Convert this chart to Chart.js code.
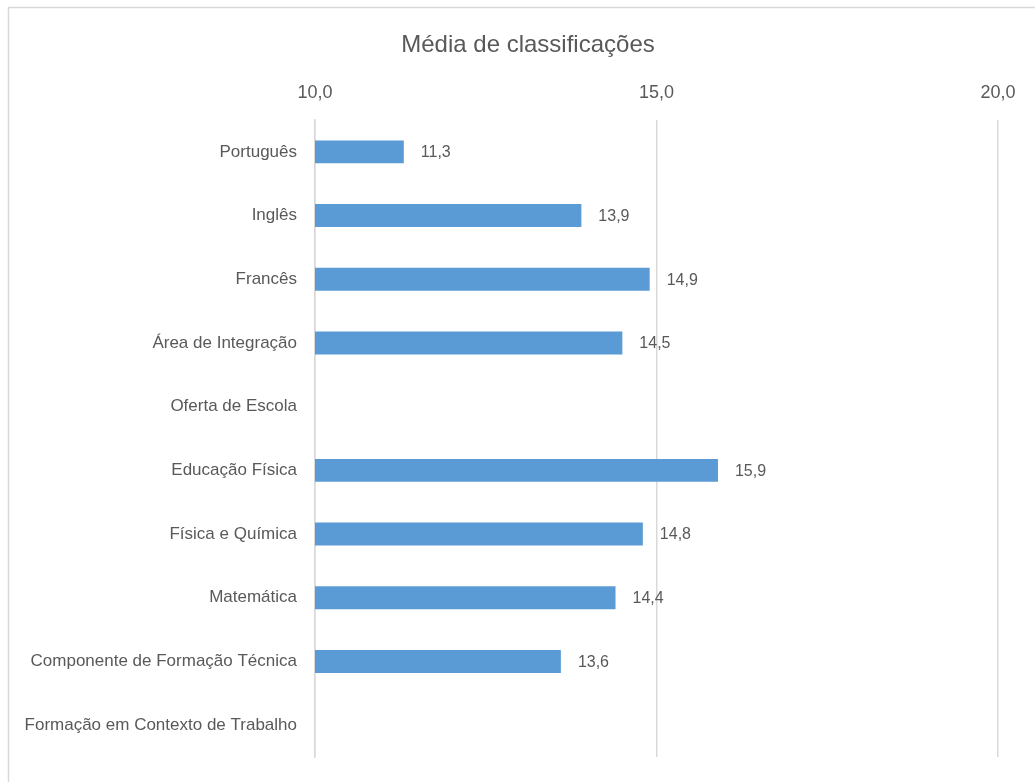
<!DOCTYPE html>
<html>
<head>
<meta charset="utf-8">
<script src="https://cdn.jsdelivr.net/npm/chart.js@4/dist/chart.umd.min.js"></script>
<style>
  html, body { margin: 0; padding: 0; background: #fff; }
  canvas { display: block; }
</style>
</head>
<body>
<canvas id="graficoMedias" width="1035" height="782"></canvas>
<script>
const disciplinas = ['Português', 'Inglês', 'Francês', 'Área de Integração', 'Oferta de Escola',
  'Educação Física', 'Física e Química', 'Matemática', 'Componente de Formação Técnica',
  'Formação em Contexto de Trabalho'];
const medias = [11.3, 13.9, 14.9, 14.5, null, 15.9, 14.8, 14.4, 13.6, null];
const eixoMin = 10;
const eixoMax = 20;
const eixoPasso = 5;
const titulo = 'Média de classificações';

const CINZA = '#595959';
const FONTE = '"Liberation Sans", Arial, sans-serif';
const fmt = v => v.toFixed(1).replace('.', ',');

// moldura e titulo (a moldura original e mais larga que a imagem)
const moldura = {
  id: 'moldura',
  beforeDraw(chart) {
    const ctx = chart.ctx;
    ctx.save();
    ctx.strokeStyle = '#d9d9d9';
    ctx.lineWidth = 1.5;
    ctx.strokeRect(8.5, 7.5, 1200, 1000);
    ctx.font = '24px ' + FONTE;
    ctx.fillStyle = CINZA;
    ctx.textAlign = 'center';
    ctx.textBaseline = 'middle';
    ctx.fillText(titulo, 528, 45);
    ctx.restore();
  }
};

// rotulos de valor a direita das barras
const rotulos = {
  id: 'rotulos',
  afterDatasetsDraw(chart) {
    const ctx = chart.ctx;
    const meta = chart.getDatasetMeta(0);
    ctx.save();
    ctx.font = '16px ' + FONTE;
    ctx.fillStyle = CINZA;
    ctx.textAlign = 'left';
    ctx.textBaseline = 'middle';
    meta.data.forEach((bar, i) => {
      const v = medias[i];
      if (v == null) return;
      ctx.fillText(fmt(v), bar.x + 17, bar.y + 1);
    });
    ctx.restore();
  }
};

new Chart(document.getElementById('graficoMedias'), {
  type: 'bar',
  data: {
    labels: disciplinas,
    datasets: [{
      data: medias,
      backgroundColor: '#5b9bd5',
      borderWidth: 0,
      barPercentage: 0.36,
      categoryPercentage: 1
    }]
  },
  options: {
    indexAxis: 'y',
    responsive: false,
    animation: false,
    layout: { padding: { left: 0, right: 37, top: 67, bottom: 25 } },
    plugins: {
      legend: { display: false },
      tooltip: { enabled: false },
      title: { display: false }
    },
    scales: {
      x: {
        position: 'top',
        min: eixoMin,
        max: eixoMax,
        afterFit: s => { s.height = 53; },
        ticks: {
          stepSize: eixoPasso,
          color: CINZA,
          padding: 16,
          font: { family: FONTE, size: 18 },
          callback: v => fmt(v)
        },
        grid: { color: '#d9d9d9', lineWidth: 1.5, drawTicks: false },
        border: { display: false }
      },
      y: {
        afterFit: s => { s.width = 315; s.paddingTop = 0; s.paddingBottom = 0; },
        ticks: {
          color: CINZA,
          padding: 18,
          font: { family: FONTE, size: 17 }
        },
        grid: { display: false, drawTicks: false },
        border: { display: true, color: '#d9d9d9', width: 1.5 }
      }
    }
  },
  plugins: [moldura, rotulos]
});
</script>
</body>
</html>
